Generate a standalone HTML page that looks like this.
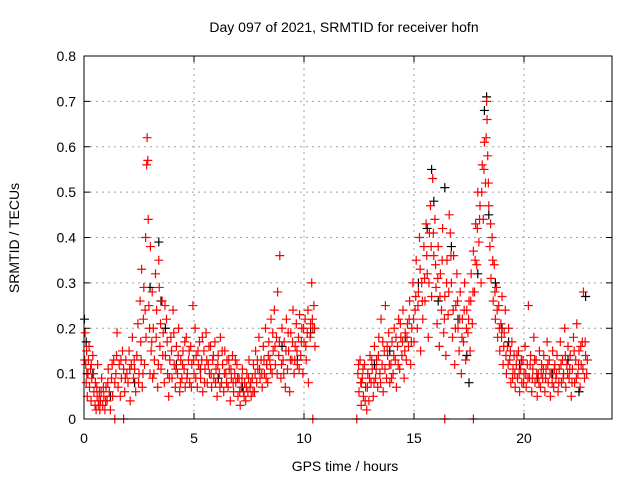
<!DOCTYPE html>
<html><head><meta charset="utf-8"><style>
html,body{margin:0;padding:0;background:#fff}
svg{display:block;font-family:"Liberation Sans",sans-serif}
</style></head><body>
<svg id="chart" width="640" height="480" viewBox="0 0 640 480" xmlns="http://www.w3.org/2000/svg">
<rect x="0" y="0" width="640" height="480" fill="#fff"/>
<g id="grid"></g>
<g id="black"></g>
<g id="red"></g>
<rect x="84" y="56" width="528" height="363" fill="none" stroke="#000" stroke-width="1"/>
<g id="ticks"></g>
<text x="344" y="32" font-size="14" text-anchor="middle">Day 097 of 2021, SRMTID for receiver hofn</text>
<text x="345" y="471" font-size="14" text-anchor="middle">GPS time / hours</text>
<text transform="translate(19,238) rotate(-90)" font-size="14" text-anchor="middle">SRMTID / TECUs</text>
</svg>
<script>
const xTicks=[0,5,10,15,20];
const yTicks=[0,0.1,0.2,0.3,0.4,0.5,0.6,0.7,0.8];
const yTickLabels=["0","0.1","0.2","0.3","0.4","0.5","0.6","0.7","0.8"];
const redMorning=[[0.05,.19],[0.08,.12],[0.1,.08],[0.12,.15],[0.15,.05],[0.18,.1],[0.2,.13],[0.25,.07],[0.3,.11],[0.32,.04],[0.35,.09],[0.4,.14],[0.45,.06],[0.5,.03],[0.52,.08],[0.55,.02],[0.6,.05],[0.62,.12],[0.65,.03],[0.7,.06],[0.72,.02],[0.75,.04],[0.8,.09],[0.85,.03],[0.9,.05],[0.95,.02],[1.0,.07],[1.05,.04],[1.1,.11],[1.15,.06],[1.2,.02],[1.25,.09],[1.3,.05],[1.35,.13],[1.4,.08],[1.45,.1],[1.5,.19],[1.55,.07],[1.6,.12],[1.65,.05],[1.7,.09],[1.75,.15],[1.8,.11],[1.85,.06],[1.9,.13],[1.95,.1],[2.0,.08],[2.05,.15],[2.1,.04],[2.15,.12],[2.2,.18],[2.25,.09],[2.3,.11],[2.35,.06],[2.4,.14],[2.45,.21],[2.5,.1],[2.55,.26],[2.6,.13],[2.62,.33],[2.65,.07],[2.7,.22],[2.72,.29],[2.75,.12],[2.8,.4],[2.82,.18],[2.85,.56],[2.87,.62],[2.9,.57],[2.92,.44],[2.95,.25],[3.0,.1],[3.02,.38],[3.05,.15],[3.1,.28],[3.12,.09],[3.15,.2],[3.2,.13],[3.25,.32],[3.3,.24],[3.35,.07],[3.4,.35],[3.42,.29],[3.45,.16],[3.5,.11],[3.55,.26],[3.6,.19],[3.65,.08],[3.7,.14],[3.75,.22],[3.8,.1],[3.85,.05],[3.9,.13],[3.95,.18],[4.0,.09],[4.05,.24],[4.1,.12],[4.15,.07],[4.2,.16],[4.25,.1],[4.3,.2],[4.35,.06],[4.4,.13],[4.45,.09],[4.5,.15],[4.55,.11],[4.6,.07],[4.65,.18],[4.7,.1],[4.75,.13],[4.8,.08],[4.85,.16],[4.9,.12],[4.95,.25],[5.0,.1],[5.05,.2],[5.1,.14],[5.15,.07],[5.2,.12],[5.25,.17],[5.3,.09],[5.35,.13],[5.4,.06],[5.45,.15],[5.5,.11],[5.55,.19],[5.6,.08],[5.65,.12],[5.7,.1],[5.75,.16],[5.8,.07],[5.85,.13],[5.9,.09],[5.95,.17],[6.0,.11],[6.05,.05],[6.1,.14],[6.15,.1],[6.2,.18],[6.25,.08],[6.3,.12],[6.35,.06],[6.4,.15],[6.45,.1],[6.5,.13],[6.55,.07],[6.6,.11],[6.65,.04],[6.7,.09],[6.75,.14],[6.8,.06],[6.85,.1],[6.9,.08],[6.95,.12],[7.0,.05],[7.05,.09],[7.1,.03],[7.15,.07],[7.2,.11],[7.25,.06],[7.3,.08],[7.35,.04],[7.4,.1],[7.45,.06],[7.5,.13],[7.55,.07],[7.6,.05],[7.65,.09],[7.7,.12],[7.75,.06],[7.8,.15],[7.85,.08],[7.9,.11],[7.95,.18],[8.0,.09],[8.05,.13],[8.1,.07],[8.15,.16],[8.2,.1],[8.25,.2],[8.3,.12],[8.35,.08],[8.4,.17],[8.45,.13],[8.5,.22],[8.55,.1],[8.6,.15],[8.65,.24],[8.7,.12],[8.75,.18],[8.8,.28],[8.85,.14],[8.9,.36],[8.95,.09],[9.0,.2],[9.05,.13],[9.1,.17],[9.15,.07],[9.2,.22],[9.25,.11],[9.3,.15],[9.35,.06],[9.4,.19],[9.45,.13],[9.5,.24],[9.55,.1],[9.6,.16],[9.65,.21],[9.7,.12],[9.75,.18],[9.8,.23],[9.85,.14],[9.9,.2],[9.95,.1],[10.0,.17],[10.05,.22],[10.1,.13],[10.15,.19],[10.2,.08],[10.3,.21],[10.35,.3],[10.4,.2],[10.45,.25],[10.5,.16]];
const redEvening=[[12.45,.1],[12.5,.06],[12.55,.13],[12.6,.03],[12.65,.09],[12.7,.05],[12.75,.12],[12.8,.07],[12.85,.02],[12.9,.1],[12.95,.04],[13.0,.14],[13.05,.08],[13.1,.11],[13.15,.05],[13.2,.16],[13.25,.09],[13.3,.13],[13.35,.07],[13.4,.18],[13.45,.1],[13.5,.22],[13.55,.12],[13.6,.06],[13.65,.15],[13.7,.25],[13.75,.09],[13.8,.14],[13.85,.19],[13.9,.08],[13.95,.12],[14.0,.17],[14.05,.1],[14.1,.2],[14.15,.13],[14.2,.07],[14.25,.16],[14.3,.22],[14.35,.11],[14.4,.18],[14.45,.14],[14.5,.24],[14.55,.09],[14.6,.19],[14.65,.13],[14.7,.21],[14.75,.16],[14.8,.26],[14.85,.12],[14.9,.2],[14.95,.3],[15.0,.17],[15.05,.24],[15.1,.35],[15.15,.2],[15.2,.28],[15.25,.4],[15.3,.15],[15.35,.3],[15.4,.22],[15.45,.38],[15.5,.26],[15.55,.43],[15.6,.32],[15.65,.18],[15.7,.41],[15.75,.47],[15.8,.27],[15.85,.53],[15.9,.36],[15.95,.44],[16.0,.29],[16.05,.21],[16.1,.38],[16.15,.16],[16.2,.32],[16.25,.24],[16.3,.42],[16.35,.19],[16.4,.27],[16.45,.14],[16.5,.35],[16.55,.23],[16.6,.45],[16.65,.41],[16.7,.3],[16.75,.18],[16.8,.36],[16.85,.12],[16.9,.25],[16.95,.32],[17.0,.2],[17.05,.15],[17.1,.28],[17.15,.1],[17.2,.22],[17.25,.17],[17.3,.3],[17.35,.13],[17.4,.24],[17.45,.19],[17.5,.26],[17.55,.15],[17.6,.32],[17.65,.21],[17.7,.37],[17.75,.28],[17.8,.43],[17.85,.34],[17.9,.5],[17.95,.39],[18.0,.47],[18.05,.3],[18.1,.56],[18.15,.44],[18.2,.61],[18.25,.52],[18.3,.7],[18.32,.66],[18.35,.58],[18.4,.47],[18.45,.38],[18.5,.31],[18.55,.4],[18.6,.26],[18.65,.34],[18.7,.22],[18.75,.29],[18.8,.18],[18.85,.25],[18.9,.15],[18.95,.21],[19.0,.27],[19.05,.12],[19.1,.19],[19.15,.24],[19.2,.1],[19.25,.16],[19.3,.2],[19.35,.13],[19.4,.08],[19.45,.17],[19.5,.11],[19.55,.14],[19.6,.07],[19.65,.12],[19.7,.09],[19.75,.15],[19.8,.06],[19.85,.11],[19.9,.08],[19.95,.13],[20.0,.1],[20.05,.16],[20.1,.07],[20.15,.12],[20.2,.25],[20.25,.09],[20.3,.14],[20.35,.06],[20.4,.11],[20.45,.18],[20.5,.08],[20.55,.13],[20.6,.05],[20.65,.1],[20.7,.15],[20.75,.07],[20.8,.12],[20.85,.09],[20.9,.14],[20.95,.06],[21.0,.11],[21.05,.17],[21.1,.08],[21.15,.13],[21.2,.05],[21.25,.1],[21.3,.15],[21.35,.07],[21.4,.12],[21.45,.09],[21.5,.14],[21.55,.06],[21.6,.11],[21.65,.17],[21.7,.08],[21.75,.13],[21.8,.1],[21.85,.2],[21.9,.07],[21.95,.12],[22.0,.16],[22.05,.09],[22.1,.14],[22.15,.05],[22.2,.11],[22.25,.18],[22.3,.08],[22.35,.13],[22.4,.21],[22.45,.1],[22.5,.15],[22.55,.07],[22.6,.12],[22.65,.17],[22.7,.28],[22.75,.09],[22.8,.14],[22.85,.1]];
const redExtraMorning=[[0.03,.13],[0.13,.1],[0.23,.16],[0.33,.12],[0.43,.1],[0.58,.07],[0.68,.04],[0.78,.06],[0.88,.07],[0.98,.04],[1.08,.08],[1.28,.12],[1.48,.14],[1.68,.13],[1.88,.09],[2.08,.11],[2.28,.13],[2.48,.08],[2.58,.17],[2.68,.1],[2.78,.24],[2.98,.2],[3.08,.17],[3.18,.1],[3.28,.18],[3.38,.12],[3.48,.21],[3.58,.14],[3.68,.25],[3.78,.17],[3.88,.09],[3.98,.15],[4.08,.19],[4.18,.11],[4.28,.14],[4.38,.08],[4.48,.12],[4.58,.17],[4.68,.09],[4.78,.15],[4.88,.07],[4.98,.13],[5.08,.09],[5.18,.15],[5.28,.11],[5.38,.18],[5.48,.08],[5.58,.13],[5.68,.16],[5.78,.1],[5.88,.14],[5.98,.08],[6.08,.12],[6.18,.07],[6.28,.15],[6.38,.1],[6.48,.08],[6.58,.13],[6.68,.11],[6.78,.08],[6.88,.13],[6.98,.09],[7.08,.06],[7.18,.09],[7.28,.05],[7.38,.07],[7.48,.09],[7.58,.08],[7.68,.06],[7.78,.1],[7.88,.13],[7.98,.11],[8.08,.1],[8.18,.13],[8.28,.09],[8.38,.14],[8.48,.11],[8.58,.19],[8.68,.16],[8.78,.1],[8.88,.17],[8.98,.12],[9.08,.1],[9.18,.15],[9.28,.19],[9.38,.13],[9.48,.17],[9.58,.13],[9.68,.15],[9.78,.11],[9.88,.17],[9.98,.2],[10.08,.16],[10.18,.24],[10.28,.18],[10.38,.22],[10.48,.2]];
const redExtraEvening=[[12.48,.12],[12.58,.08],[12.68,.11],[12.78,.04],[12.88,.07],[12.98,.09],[13.08,.13],[13.18,.08],[13.28,.11],[13.38,.14],[13.48,.08],[13.58,.17],[13.68,.11],[13.78,.16],[13.88,.12],[13.98,.09],[14.08,.14],[14.18,.18],[14.28,.12],[14.38,.21],[14.48,.17],[14.58,.15],[14.68,.18],[14.78,.22],[14.88,.17],[14.98,.22],[15.08,.27],[15.18,.25],[15.28,.33],[15.38,.26],[15.48,.31],[15.58,.36],[15.68,.3],[15.78,.38],[15.88,.41],[15.98,.34],[16.08,.31],[16.18,.27],[16.28,.35],[16.38,.22],[16.48,.3],[16.58,.28],[16.68,.36],[16.78,.24],[16.88,.2],[16.98,.26],[17.08,.22],[17.18,.18],[17.28,.24],[17.38,.2],[17.48,.22],[17.58,.26],[17.68,.28],[17.78,.35],[17.88,.42],[17.98,.44],[18.08,.5],[18.18,.55],[18.28,.62],[18.38,.52],[18.48,.43],[18.58,.35],[18.68,.28],[18.78,.24],[18.88,.2],[18.98,.18],[19.08,.16],[19.18,.14],[19.28,.12],[19.38,.15],[19.48,.09],[19.58,.1],[19.68,.14],[19.78,.1],[19.88,.13],[19.98,.08],[20.08,.1],[20.18,.09],[20.28,.12],[20.38,.09],[20.48,.13],[20.58,.1],[20.68,.08],[20.78,.1],[20.88,.11],[20.98,.09],[21.08,.12],[21.18,.1],[21.28,.08],[21.38,.11],[21.48,.1],[21.58,.08],[21.68,.12],[21.78,.09],[21.88,.14],[21.98,.1],[22.08,.11],[22.18,.08],[22.28,.15],[22.38,.09],[22.48,.12],[22.58,.16],[22.68,.11],[22.78,.17],[22.88,.13]];
const redZeros=[[1.4,0],[1.8,0],[10.4,0],[12.4,0],[16.4,0],[17.7,0]];
const blackPts=[[0.02,.22],[0.1,.17],[0.4,.1],[1.2,.05],[2.3,.08],[3.0,.29],[3.4,.39],[3.5,.26],[3.7,.2],[4.2,.12],[5.3,.11],[6.1,.09],[7.2,.07],[8.3,.12],[9.0,.16],[9.7,.13],[10.3,.19],[12.6,.08],[13.2,.12],[13.9,.15],[14.6,.18],[15.2,.3],[15.6,.42],[15.8,.55],[15.9,.48],[16.1,.26],[16.4,.51],[16.7,.38],[17.0,.22],[17.4,.14],[17.5,.08],[17.9,.32],[18.2,.68],[18.3,.71],[18.4,.45],[18.7,.3],[19.0,.2],[19.3,.17],[19.8,.12],[20.6,.09],[21.3,.1],[22.0,.13],[22.8,.27],[22.5,.06]];
const SVGNS="http://www.w3.org/2000/svg";
const L=84,R=612,T=56,B=419,XMAX=24,YMAX=0.8;
const xs=t=>L+(R-L)*t/XMAX;
const ys=v=>B-(B-T)*v/YMAX;
const grid=document.getElementById('grid'),ticks=document.getElementById('ticks');
function mk(tag,attrs,parent){const e=document.createElementNS(SVGNS,tag);for(const k in attrs)e.setAttribute(k,attrs[k]);parent.appendChild(e);return e;}
xTicks.forEach(t=>{const x=xs(t);
 if(t>0){const g=mk('line',{x1:x,x2:x,y1:T,y2:B,stroke:'#a0a0a0','stroke-dasharray':'2,4'},grid);
 
 }
 const a=mk('line',{x1:x,x2:x,y1:B,y2:B-6,stroke:'#000'},ticks);
 
 
 const b=mk('line',{x1:x,x2:x,y1:T,y2:T+6,stroke:'#000'},ticks);
 
 
 const tx=mk('text',{x:x,y:B+24,'font-size':14,'text-anchor':'middle'},ticks);tx.textContent=String(t);
 
 
});
yTicks.forEach((v,i)=>{const y=ys(v);
 if(v>0&&v<YMAX){const g=mk('line',{x1:L,x2:R,y1:y,y2:y,stroke:'#a0a0a0','stroke-dasharray':'2,4'},grid);
 
 }
 const a=mk('line',{x1:L,x2:L+6,y1:y,y2:y,stroke:'#000'},ticks);
 
 
 const b=mk('line',{x1:R,x2:R-6,y1:y,y2:y,stroke:'#000'},ticks);
 
 
 const tx=mk('text',{x:L-8,y:y+5,'font-size':14,'text-anchor':'end'},ticks);tx.textContent=yTickLabels[i];
 
 
});
function plus(p,color,parent){const x=xs(p[0]),y=ys(p[1]);
 const e=mk('path',{d:`M${x-4.5},${y}H${x+4.5}M${x},${y-4.5}V${y+4.5}`,stroke:color,'stroke-width':1.2,fill:'none'},parent);
 
 }
const bg=document.getElementById('black'),rg=document.getElementById('red');
blackPts.forEach(p=>plus(p,'#000',bg));
redMorning.forEach(p=>plus(p,'#f00',rg));
redExtraMorning.forEach(p=>plus(p,'#f00',rg));
redEvening.forEach(p=>plus(p,'#f00',rg));
redExtraEvening.forEach(p=>plus(p,'#f00',rg));
redZeros.forEach(p=>plus(p,'#f00',rg));
</script>
</body></html>
